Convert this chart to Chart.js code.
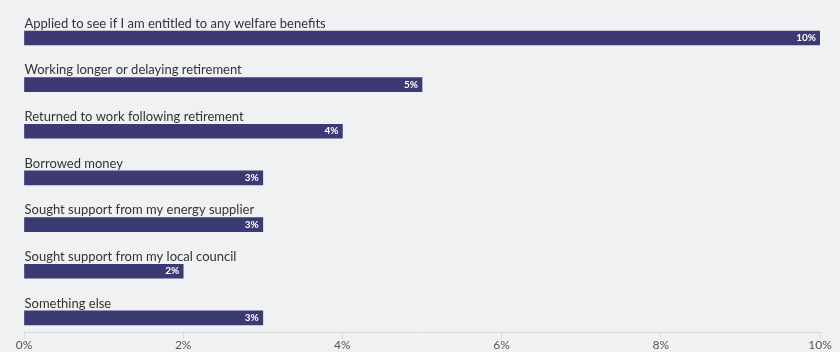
<!DOCTYPE html>
<html>
<head>
<meta charset="utf-8">
<script src="https://cdn.jsdelivr.net/npm/chart.js@4"></script>
<style>
  html, body { margin: 0; padding: 0; background: #f0f1f3; }
  #wrap { width: 840px; height: 352px; position: relative; }
</style>
</head>
<body>
<div id="wrap"><canvas id="c" width="840" height="352"></canvas></div>
<script>
const categories = [
  "Applied to see if I am entitled to any welfare benefits",
  "Working longer or delaying retirement",
  "Returned to work following retirement",
  "Borrowed money",
  "Sought support from my energy supplier",
  "Sought support from my local council",
  "Something else"
];
const values = [10, 5, 4, 3, 3, 2, 3];
const xTicks = [0, 2, 4, 6, 8, 10];

const labelPlugin = {
  id: 'barLabels',
  afterDatasetsDraw(chart) {
    const ctx = chart.ctx;
    const meta = chart.getDatasetMeta(0);
    ctx.save();
    meta.data.forEach((el, i) => {
      const p = el.getProps(['x', 'y', 'base', 'height'], true);
      ctx.font = '13px Lato, "Open Sans", sans-serif';
      ctx.fillStyle = '#333333';
      ctx.textAlign = 'left';
      ctx.textBaseline = 'bottom';
      ctx.fillText(categories[i], p.base, p.y - p.height / 2 - 1);
      ctx.font = 'bold 10px Lato, "Open Sans", sans-serif';
      ctx.fillStyle = '#ffffff';
      ctx.textAlign = 'right';
      ctx.textBaseline = 'middle';
      ctx.fillText(values[i] + '%', p.x - 4, p.y);
    });
    ctx.restore();
  }
};

new Chart(document.getElementById('c'), {
  type: 'bar',
  data: {
    datasets: [{
      data: values.map((v, i) => ({ x: v, y: i })),
      backgroundColor: '#3b3a73',
      borderWidth: 0,
      barThickness: 14
    }]
  },
  options: {
    indexAxis: 'y',
    responsive: false,
    animation: false,
    layout: { padding: { left: 24, right: 20, top: 14, bottom: 0 } },
    plugins: { legend: { display: false }, tooltip: { enabled: false } },
    scales: {
      y: {
        type: 'linear',
        reverse: true,
        offset: false,
        grid: { offset: false },
        min: -0.514,
        max: 6.32,
        display: false
      },
      x: {
        type: 'linear',
        min: xTicks[0],
        max: xTicks[xTicks.length - 1],
        afterBuildTicks(scale) { scale.ticks = xTicks.map(v => ({ value: v })); },
        ticks: {
          callback: v => v + '%',
          font: { size: 12, family: 'Lato, "Open Sans", sans-serif', lineHeight: 1.1 },
          color: '#555555',
          padding: 0,
          maxRotation: 0
        },
        grid: { display: true, drawOnChartArea: false, tickLength: 6, color: '#d9dadd' },
        border: { display: true, color: '#d9dadd' }
      }
    }
  },
  plugins: [labelPlugin]
});
</script>
</body>
</html>
